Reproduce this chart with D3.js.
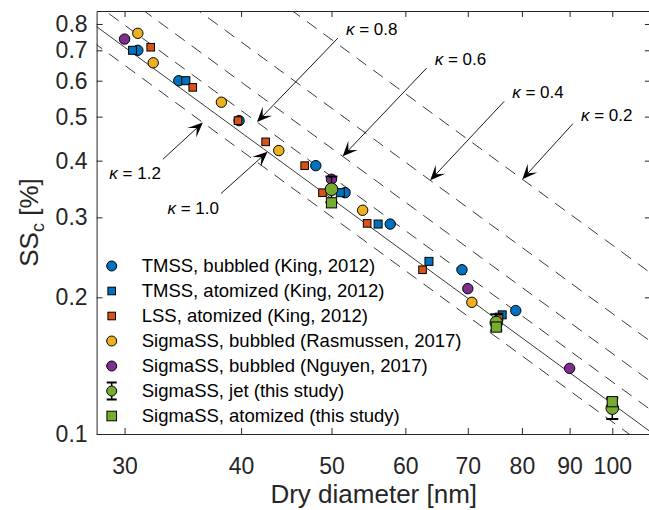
<!DOCTYPE html>
<html><head><meta charset="utf-8">
<script src="https://cdn.jsdelivr.net/npm/d3@7"></script>
<style>
body{margin:0;background:#fff}
svg{display:block}
text{font-family:"Liberation Sans",Arial,Helvetica,sans-serif}
</style>
</head><body>
<svg id="chart" width="649" height="510"></svg>
<script>
// ---------------- data ----------------
const xTicks = [30, 40, 50, 60, 70, 80, 90, 100];
const yTicks = [0.1, 0.2, 0.3, 0.4, 0.5, 0.6, 0.7, 0.8];

const tmssBubbledD  = [31.0, 34.3, 39.8, 48.1, 51.7, 57.8, 69.0, 78.8];
const tmssBubbledSS = [0.700, 0.600, 0.490, 0.390, 0.340, 0.290, 0.230, 0.187];

const tmssAtomD  = [30.6, 34.9, 51.1, 56.1, 63.6, 76.2];
const tmssAtomSS = [0.700, 0.600, 0.340, 0.290, 0.240, 0.183];

const lssAtomD  = [32.0, 35.5, 39.7, 42.5, 46.8, 48.9, 54.6, 62.6, 75.6];
const lssAtomSS = [0.711, 0.580, 0.490, 0.440, 0.390, 0.340, 0.291, 0.230, 0.181];

const rasmussenD  = [31.0, 32.2, 38.1, 43.9, 54.0, 70.7];
const rasmussenSS = [0.763, 0.657, 0.538, 0.421, 0.311, 0.195];

const nguyenD  = [30.0, 50.0, 70.0, 90.0];
const nguyenSS = [0.741, 0.364, 0.209, 0.1395];

const jetD    = [50.0, 75.1, 100.0];
const jetSS   = [0.346, 0.176, 0.1140];
const jetLow  = [0.324, 0.169, 0.1079];
const jetHigh = [0.369, 0.1835, 0.1200];

const sigmaAtomD  = [50.0, 75.1, 100.0];
const sigmaAtomSS = [0.323, 0.172, 0.1178];

const kappaValues = [1.2, 1.0, 0.8, 0.6, 0.4, 0.2];
const kappaSolid  = [false, true, false, false, false, false];
// where each kappa arrow points (dry diameter on its line)
const kappaArrowD = [36.4, 42.7, 41.6, 51.4, 63.8, 80.1];

const legendLabels = [
  "TMSS, bubbled (King, 2012)",
  "TMSS, atomized (King, 2012)",
  "LSS, atomized (King, 2012)",
  "SigmaSS, bubbled (Rasmussen, 2017)",
  "SigmaSS, bubbled (Nguyen, 2017)",
  "SigmaSS, jet (this study)",
  "SigmaSS, atomized (this study)"
];

// ---------------- setup ----------------
const W = 649, H = 510;
const L = 96.6, R = 650.9, T = 11, B = 434;
const axisColor = "#262626";
const colBlue = "#0072BD", colRed = "#D95319", colYellow = "#EDB120",
      colPurple = "#7E2F8E", colGreen = "#77AC30";

const svg = d3.select("#chart");
const x = d3.scaleLog().domain([28, 110]).range([L, R]);
const y = d3.scaleLog().domain([0.1, 0.8544]).range([B, T]);

svg.append("defs").append("clipPath").attr("id", "plotclip")
  .append("rect").attr("x", L).attr("y", T).attr("width", R - L).attr("height", B - T);

// Koehler critical supersaturation (%) for kappa, dry diameter in nm
const Akel = 2.092e-9;
function kohlerSS(Dnm, k) {
  const D = Dnm * 1e-9;
  return 100 * (Math.exp(Math.sqrt(4 * Akel ** 3 / (27 * k * D ** 3))) - 1);
}

// kappa lines
const dSamples = d3.range(0, 41).map(i => 20 * Math.pow(130 / 20, i / 40));
const gLines = svg.append("g").attr("clip-path", "url(#plotclip)");
kappaValues.forEach((k, i) => {
  gLines.append("path")
    .datum(dSamples)
    .attr("fill", "none")
    .attr("stroke", "#222")
    .attr("stroke-width", 0.9)
    .attr("stroke-dasharray", kappaSolid[i] ? null : "12,8.5")
    .attr("d", d3.line().x(d => x(d)).y(d => y(kohlerSS(d, k))));
});

// ---------------- axes ----------------
function styleAxis(g) {
  g.select(".domain").attr("stroke", axisColor).attr("stroke-width", 1);
  g.selectAll(".tick line").attr("stroke", axisColor).attr("stroke-width", 1);
  g.selectAll("text").attr("fill", axisColor).attr("font-size", 23)
    .attr("font-family", '"Liberation Sans",Arial,Helvetica,sans-serif');
}
svg.append("g").attr("transform", `translate(0,${B})`)
  .call(d3.axisBottom(x).tickValues(xTicks).tickFormat(d3.format("d"))
        .tickSizeInner(-6).tickSizeOuter(0).tickPadding(24))
  .call(styleAxis);
svg.append("g").attr("transform", `translate(0,${T})`)
  .call(d3.axisTop(x).tickValues(xTicks).tickFormat("")
        .tickSizeInner(-6).tickSizeOuter(0))
  .call(styleAxis);
svg.append("g").attr("transform", `translate(${L},0)`)
  .call(d3.axisLeft(y).tickValues(yTicks).tickFormat(d3.format(".1f"))
        .tickSizeInner(-6).tickSizeOuter(0).tickPadding(9))
  .call(styleAxis);
svg.append("g").attr("transform", `translate(${R},0)`)
  .call(d3.axisRight(y).tickValues(yTicks).tickFormat("")
        .tickSizeInner(-6).tickSizeOuter(0))
  .call(styleAxis);
svg.selectAll("g.tick text").attr("font-size", 23);

// axis labels
svg.append("text")
  .attr("x", (L + R) / 2).attr("y", 503)
  .attr("text-anchor", "middle").attr("font-size", 26).attr("fill", axisColor)
  .text("Dry diameter [nm]");
const yl = svg.append("text")
  .attr("transform", `translate(38,${(T + B) / 2}) rotate(-90)`)
  .attr("text-anchor", "middle").attr("font-size", 26).attr("fill", axisColor);
yl.append("tspan").text("SS");
yl.append("tspan").attr("font-size", 18).attr("dy", 6).text("c");
yl.append("tspan").attr("dy", -6).text(" [%]");

// ---------------- markers ----------------
const gPts = svg.append("g");
function circles(D, S, r, fill) {
  gPts.selectAll(null).data(D.map((d, i) => [d, S[i]])).enter().append("circle")
    .attr("cx", d => x(d[0])).attr("cy", d => y(d[1])).attr("r", r)
    .attr("fill", fill).attr("stroke", "#000").attr("stroke-width", 1);
}
function squares(D, S, s, fill) {
  gPts.selectAll(null).data(D.map((d, i) => [d, S[i]])).enter().append("rect")
    .attr("x", d => x(d[0]) - s / 2).attr("y", d => y(d[1]) - s / 2)
    .attr("width", s).attr("height", s)
    .attr("fill", fill).attr("stroke", "#000").attr("stroke-width", 1);
}
circles(tmssBubbledD, tmssBubbledSS, 5.2, colBlue);
squares(tmssAtomD, tmssAtomSS, 8, colBlue);
squares(lssAtomD, lssAtomSS, 7.6, colRed);
circles(rasmussenD, rasmussenSS, 5.2, colYellow);
circles(nguyenD, nguyenSS, 5.2, colPurple);
// error bars for jet
jetD.forEach((d, i) => {
  const cx = x(d);
  gPts.append("line").attr("x1", cx).attr("x2", cx)
    .attr("y1", y(jetLow[i])).attr("y2", y(jetHigh[i]))
    .attr("stroke", "#000").attr("stroke-width", 1.5);
  [jetLow[i], jetHigh[i]].forEach(v => {
    gPts.append("line").attr("x1", cx - 6).attr("x2", cx + 6)
      .attr("y1", y(v)).attr("y2", y(v))
      .attr("stroke", "#000").attr("stroke-width", 2);
  });
});
circles(jetD, jetSS, 6.3, colGreen);
squares(sigmaAtomD, sigmaAtomSS, 10.2, colGreen);

// ---------------- kappa annotations ----------------
const arrowTail = [[-40, 36.7], [-46.6, 41.7], [81, -84], [84, -88.3], [74, -79], [50.6, -55.7]];
const gAnn = svg.append("g");
kappaValues.forEach((k, i) => {
  const tx = x(kappaArrowD[i]), ty = y(kohlerSS(kappaArrowD[i], k));
  const sx = tx + arrowTail[i][0], sy = ty + arrowTail[i][1];
  const dx = tx - sx, dy = ty - sy, len = Math.hypot(dx, dy);
  const ux = dx / len, uy = dy / len, nx = -uy, ny = ux;
  const hl = 15, hw = 6.5;
  gAnn.append("line").attr("x1", sx).attr("y1", sy)
    .attr("x2", tx - ux * hl * 0.5).attr("y2", ty - uy * hl * 0.5)
    .attr("stroke", "#000").attr("stroke-width", 0.9);
  const p = [
    [tx, ty],
    [tx - ux * hl + nx * hw, ty - uy * hl + ny * hw],
    [tx - ux * hl * 0.55, ty - uy * hl * 0.55],
    [tx - ux * hl - nx * hw, ty - uy * hl - ny * hw]
  ];
  gAnn.append("path").attr("d", "M" + p.map(q => q.join(",")).join("L") + "Z")
    .attr("fill", "#000");
  const left = arrowTail[i][0] < 0;
  const t = gAnn.append("text")
    .attr("x", left ? sx - 2 : sx + 8)
    .attr("y", left ? sy + 20 : sy - 3)
    .attr("text-anchor", left ? "end" : "start")
    .attr("font-size", 17).attr("fill", "#000");
  t.append("tspan").attr("font-style", "italic").text("\u03BA");
  t.append("tspan").text(" = " + k.toFixed(1));
});

// ---------------- legend ----------------
const lg = svg.append("g");
const lx = 111.7, ly0 = 266, lstep = 25;
legendLabels.forEach((lab, i) => {
  const cy = ly0 + i * lstep;
  if (i === 0) lg.append("circle").attr("cx", lx).attr("cy", cy).attr("r", 5).attr("fill", colBlue).attr("stroke", "#000");
  if (i === 1) lg.append("rect").attr("x", lx - 3.8).attr("y", cy - 3.8).attr("width", 7.6).attr("height", 7.6).attr("fill", colBlue).attr("stroke", "#000");
  if (i === 2) lg.append("rect").attr("x", lx - 3.8).attr("y", cy - 3.8).attr("width", 7.6).attr("height", 7.6).attr("fill", colRed).attr("stroke", "#000");
  if (i === 3) lg.append("circle").attr("cx", lx).attr("cy", cy).attr("r", 5).attr("fill", colYellow).attr("stroke", "#000");
  if (i === 4) lg.append("circle").attr("cx", lx).attr("cy", cy).attr("r", 5).attr("fill", colPurple).attr("stroke", "#000");
  if (i === 5) {
    lg.append("line").attr("x1", lx).attr("x2", lx).attr("y1", cy - 8.5).attr("y2", cy + 8.5).attr("stroke", "#000").attr("stroke-width", 1.5);
    lg.append("line").attr("x1", lx - 5).attr("x2", lx + 5).attr("y1", cy - 8.5).attr("y2", cy - 8.5).attr("stroke", "#000").attr("stroke-width", 2);
    lg.append("line").attr("x1", lx - 5).attr("x2", lx + 5).attr("y1", cy + 8.5).attr("y2", cy + 8.5).attr("stroke", "#000").attr("stroke-width", 2);
    lg.append("circle").attr("cx", lx).attr("cy", cy).attr("r", 5).attr("fill", colGreen).attr("stroke", "#000");
  }
  if (i === 6) lg.append("rect").attr("x", lx - 4.8).attr("y", cy - 4.8).attr("width", 9.6).attr("height", 9.6).attr("fill", colGreen).attr("stroke", "#000");
  lg.append("text").attr("x", 141.7).attr("y", cy).attr("dy", "0.35em")
    .attr("font-size", 18.5).attr("fill", "#000").text(lab);
});
</script>
</body></html>
